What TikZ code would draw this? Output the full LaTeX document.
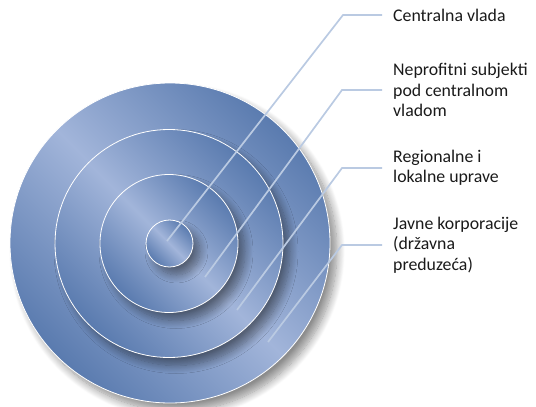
\documentclass[tikz,border=0pt]{standalone}
\usepackage{fontspec}
\setmainfont{Carlito}
\usetikzlibrary{positioning, shadows.blur}
\definecolor{RingDark}{HTML}{5A7BAF}
\definecolor{RingLight}{HTML}{A2B5DA}
\definecolor{LeadBlue}{HTML}{BACAE2}
\definecolor{TextGray}{HTML}{1A1A1A}

\begin{document}
\begin{tikzpicture}[
    x=1pt, y=-1pt,
    ring/.style={draw=white, line width=0.8pt,
      top color=RingDark, bottom color=RingDark, middle color=RingLight,
      shading angle=-45,
      blur shadow={shadow xshift=7pt, shadow yshift=-8pt,
        shadow blur steps=12, shadow blur radius=8pt, shadow opacity=45}},
    lead/.style={draw=LeadBlue, line width=1.7pt},
    ringtext/.style={align=left, inner sep=0pt, text=TextGray,
      font=\fontsize{17.8}{20.3}\selectfont},
  ]
  \useasboundingbox (0,0) rectangle (536,407);
  % rings, outer to inner
  \path[ring] (170,243) circle[radius=160pt];
  \path[ring] (169,243.5) circle[radius=114pt];
  \path[ring] (169,243.5) circle[radius=69pt];
  \path[ring] (169.5,243.5) circle[radius=23.5pt];
  % leader tips, bends and ends
  \coordinate (tip1) at (167,241);
  \coordinate (tip2) at (205,277);
  \coordinate (tip3) at (237,310);
  \coordinate (tip4) at (268,342);
  \coordinate (bend1) at (343,15);
  \coordinate (bend2) at (342,90);
  \coordinate (bend3) at (342,168);
  \coordinate (bend4) at (342,245);
  \coordinate (end1) at (382,15);
  \coordinate (end2) at (382,90);
  \coordinate (end3) at (382,168);
  \coordinate (end4) at (382,245);
  % labels
  \node[ringtext, right=11pt of end1] (central) {Centralna vlada};
  \node[ringtext, right=11pt of end2] (neprofit) {Neprofitni subjekti\\pod centralnom\\vladom};
  \node[ringtext, right=11pt of end3] (regional) {Regionalne i\\lokalne uprave};
  \node[ringtext, right=11pt of end4] (javne) {Javne korporacije\\(državna\\preduzeća)};
  % leaders
  \draw[lead] (tip1) -- (bend1) -- (end1);
  \draw[lead] (tip2) -- (bend2) -- (end2);
  \draw[lead] (tip3) -- (bend3) -- (end3);
  \draw[lead] (tip4) -- (bend4) -- (end4);
\end{tikzpicture}
\end{document}
